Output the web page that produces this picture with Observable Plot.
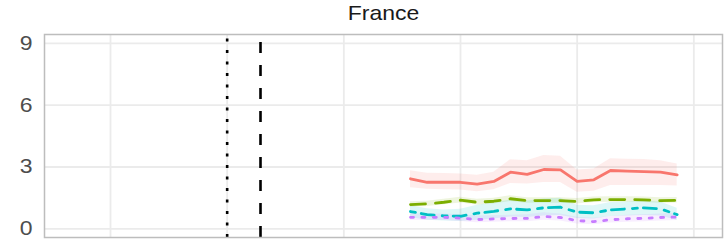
<!DOCTYPE html>
<html><head><meta charset="utf-8">
<script src="https://cdn.jsdelivr.net/npm/d3@7"></script>
<script src="https://cdn.jsdelivr.net/npm/@observablehq/plot@0.6"></script>
<style>
body{margin:0;background:#fff}
svg{font-family:"Liberation Sans",Arial,sans-serif}
</style>
</head><body><div id="chart"></div>
<script>
const title = "France";
const days = [0,1,2,3,4,5,6,7,8,9,10,11,12,13,14,15,16];
const gridDays = [-18,-11,-4,3,10,17];
const vlineDotted = [-11];
const vlineDashed = [-9];
const yTicks = [0,3,6,9];

const redMid = [2.43,2.26,2.26,2.26,2.17,2.30,2.75,2.64,2.88,2.86,2.30,2.38,2.83,2.80,2.78,2.75,2.62];
const redLo  = [2.00,1.92,1.90,1.88,1.80,1.90,2.20,2.18,2.25,2.25,1.78,1.82,2.10,2.10,2.10,2.10,2.08];
const redHi  = [2.82,2.70,2.68,2.66,2.60,2.75,3.35,3.30,3.56,3.52,2.85,2.90,3.40,3.38,3.36,3.30,3.15];

const greenMid = [1.18,1.21,1.29,1.39,1.29,1.34,1.46,1.37,1.37,1.37,1.33,1.41,1.42,1.42,1.41,1.37,1.38];
const greenLo  = [1.06,1.09,1.17,1.26,1.16,1.21,1.33,1.24,1.24,1.24,1.20,1.28,1.29,1.29,1.28,1.24,1.25];
const greenHi  = [1.31,1.34,1.43,1.53,1.43,1.48,1.60,1.51,1.51,1.51,1.47,1.55,1.56,1.56,1.55,1.51,1.52];

const cyanMid = [0.84,0.69,0.63,0.61,0.76,0.85,0.97,0.92,1.02,1.05,0.81,0.78,0.92,0.97,1.02,0.97,0.69];
const cyanLo  = [0.55,0.42,0.38,0.36,0.42,0.48,0.58,0.55,0.62,0.65,0.50,0.48,0.60,0.62,0.65,0.62,0.42];
const cyanHi  = [1.12,0.98,0.92,0.95,1.15,1.25,1.40,1.35,1.45,1.48,1.15,1.12,1.28,1.30,1.35,1.30,1.00];

const purpleMid = [0.56,0.56,0.56,0.52,0.45,0.48,0.50,0.51,0.60,0.55,0.40,0.35,0.44,0.49,0.51,0.55,0.57];
const purpleLo  = [0.40,0.40,0.40,0.36,0.30,0.32,0.34,0.35,0.42,0.38,0.24,0.20,0.28,0.32,0.34,0.38,0.40];
const purpleHi  = [0.72,0.72,0.72,0.68,0.62,0.64,0.66,0.68,0.78,0.72,0.56,0.52,0.60,0.66,0.68,0.72,0.74];

const xDomain = [-21.96, 18.72];
const yDomain = [-0.42, 9.43];

const series = [
  {name:"s1", color:"#F8766D", dash:null, mid:redMid, lo:redLo, hi:redHi},
  {name:"s2", color:"#7CAE00", dash:"15,10", mid:greenMid, lo:greenLo, hi:greenHi},
  {name:"s3", color:"#00BFC4", dash:"5,6,13,8", mid:cyanMid, lo:cyanLo, hi:cyanHi},
  {name:"s4", color:"#C77CFF", dash:"3,8.4", mid:purpleMid, lo:purpleLo, hi:purpleHi}
];
const rows = series.map(s => days.map((d,i) => ({series:s.name, day:d, mid:s.mid[i], lo:s.lo[i], hi:s.hi[i]})));

const chart = Plot.plot({
  width: 724, height: 248,
  marginLeft: 44, marginRight: 2, marginTop: 34, marginBottom: 11,
  x: {domain: xDomain, axis: null},
  y: {domain: yDomain, axis: null},
  marks: [
    Plot.gridX(gridDays, {stroke:"#EBEBEB", strokeOpacity:1, strokeWidth:1.8}),
    Plot.gridY(yTicks, {stroke:"#EBEBEB", strokeOpacity:1, strokeWidth:1.8}),
    ...series.map((s,k) => Plot.areaY(rows[k], {x:"day", y1:"lo", y2:"hi", fill:s.color, fillOpacity:0.13})),
    Plot.ruleX(vlineDotted, {x:d=>d, y1:yDomain[0], y2:yDomain[1], stroke:"#000", strokeWidth:2.6, strokeDasharray:"3,8.5"}),
    Plot.ruleX(vlineDashed, {x:d=>d, y1:yDomain[0], y2:yDomain[1], stroke:"#000", strokeWidth:2.6, strokeDasharray:"11,12"}),
    ...series.map((s,k) => Plot.lineY(rows[k], {x:"day", y:"mid", stroke:s.color, strokeWidth:2.8, strokeDasharray:s.dash || undefined})),
    Plot.frame({stroke:"#BDBDBD", strokeWidth:1.5}),
    Plot.axisY(yTicks, {tickSize:0, tickPadding:12, fontSize:20, fill:"#4D4D4D", label:null}),
    Plot.text([title], {frameAnchor:"top", text:d=>d, dy:-15, lineAnchor:"bottom", fontSize:20, fill:"#1A1A1A"})
  ]
});
document.getElementById("chart").appendChild(chart);
// the reference text is slightly wide: stretch glyphs horizontally around their anchor
chart.querySelectorAll("text").forEach(t => {
  const tr = t.getAttribute("transform");
  if (tr) t.setAttribute("transform", tr + " scale(1.15,1)");
});
</script>
</body></html>
